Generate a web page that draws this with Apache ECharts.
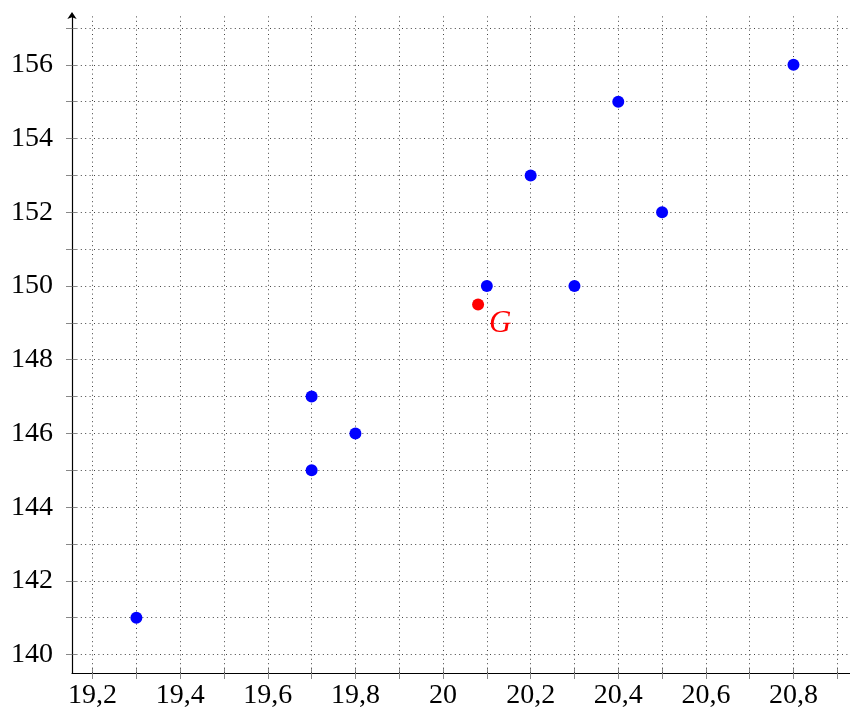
<!DOCTYPE html>
<html>
<head>
<meta charset="utf-8">
<script src="https://cdn.jsdelivr.net/npm/echarts@6/dist/echarts.min.js"></script>
<style>html,body{margin:0;padding:0;background:#fff}#c{width:850px;height:713px}</style>
</head>
<body>
<div id="c"></div>
<script>
const xs = [19.3, 19.7, 19.7, 19.8, 20.1, 20.2, 20.3, 20.4, 20.5, 20.8];
const ys = [141, 147, 145, 146, 150, 153, 150, 155, 152, 156];
const gPoint = [20.08, 149.5];
const gLabel = 'G';
const xGrid = [19.2,19.3,19.4,19.5,19.6,19.7,19.8,19.9,20,20.1,20.2,20.3,20.4,20.5,20.6,20.7,20.8,20.9];
const yGrid = [140,141,142,143,144,145,146,147,148,149,150,151,152,153,154,155,156,157];
const xLabels = [19.2, 19.4, 19.6, 19.8, 20, 20.2, 20.4, 20.6, 20.8];
const yLabels = [140, 142, 144, 146, 148, 150, 152, 154, 156];

const X_MIN = 19.153, X_MAX = 20.929, Y_MIN = 139.5, Y_MAX = 157.38;
const font = '"Liberation Serif", "DejaVu Serif", serif';
const fmt = v => String(v).replace('.', ',');
const gridRect = {left: 72, right: 0, top: 14, bottom: 40};

const chart = echarts.init(document.getElementById('c'), null, {renderer: 'canvas'});
chart.setOption({
  animation: false,
  backgroundColor: '#fff',
  grid: [Object.assign({}, gridRect), Object.assign({}, gridRect)],
  xAxis: [{
    type: 'value', gridIndex: 0, min: X_MIN, max: X_MAX,
    axisLine: {show: true, onZero: false, lineStyle: {color: '#000', width: 1.2}},
    axisTick: {show: true, length: 6, inside: false, customValues: xGrid, lineStyle: {color: '#888', width: 1}},
    axisLabel: {show: true, customValues: xLabels, formatter: fmt, margin: 9,
      fontFamily: font, fontSize: 28, color: '#000'},
    splitLine: {show: false}
  }, {
    type: 'value', gridIndex: 1, min: X_MIN, max: X_MAX,
    axisLine: {show: false, onZero: false},
    axisTick: {show: true, length: 5, inside: true, customValues: xGrid, lineStyle: {color: '#888', width: 1}},
    axisLabel: {show: false},
    splitLine: {show: false}
  }],
  yAxis: [{
    type: 'value', gridIndex: 0, min: Y_MIN, max: Y_MAX,
    axisLine: {show: true, onZero: false, lineStyle: {color: '#000', width: 1.2},
      symbol: ['none', 'arrow'], symbolSize: [7, 7], symbolOffset: [0, 2]},
    axisTick: {show: true, length: 6, inside: false, customValues: yGrid, lineStyle: {color: '#888', width: 1}},
    axisLabel: {show: true, customValues: yLabels, formatter: fmt, margin: 19,
      fontFamily: font, fontSize: 28, color: '#000'},
    splitLine: {show: false}
  }, {
    type: 'value', gridIndex: 1, min: Y_MIN, max: Y_MAX,
    axisLine: {show: false, onZero: false},
    axisTick: {show: true, length: 4, inside: true, customValues: yGrid, lineStyle: {color: '#888', width: 1}},
    axisLabel: {show: false},
    splitLine: {show: false}
  }],
  series: [{
    type: 'scatter', xAxisIndex: 0, yAxisIndex: 0, z: 3,
    symbol: 'circle', symbolSize: 12,
    itemStyle: {color: '#0000ff', opacity: 1},
    data: xs.map((x, i) => [x, ys[i]]),
    emphasis: {disabled: true},
    markLine: {
      silent: true, z: 1, animation: false,
      symbol: ['none', 'none'],
      label: {show: false},
      emphasis: {disabled: true},
      lineStyle: {color: '#444', width: 1, type: [1, 3.4], opacity: 1},
      data: xGrid.map(v => ({xAxis: v})).concat(yGrid.map(v => ({yAxis: v})))
    }
  }, {
    type: 'scatter', xAxisIndex: 0, yAxisIndex: 0, z: 4,
    symbol: 'circle', symbolSize: 12,
    itemStyle: {color: '#ff0000', opacity: 1},
    emphasis: {disabled: true},
    data: [{value: gPoint, name: gLabel}],
    label: {show: true, position: 'right', distance: 5, offset: [0, 19],
      formatter: '{b}', fontFamily: font, fontStyle: 'italic', fontSize: 31, color: '#ff0000'}
  }]
});
</script>
</body>
</html>
